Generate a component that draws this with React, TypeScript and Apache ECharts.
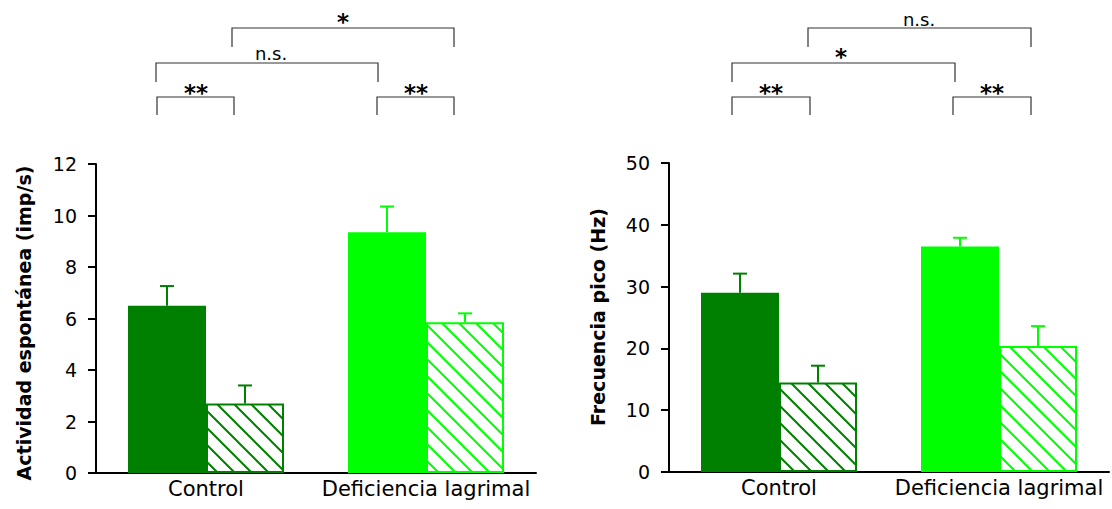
import React, { useEffect, useRef } from 'react';
import * as echarts from 'echarts';

const categories = ['Control', 'Deficiencia lagrimal'];
const groupColors = ['#008000', '#00ff00'];

const leftSolid = [6.5, 9.35];
const leftSolidErr = [0.76, 1.0];
const leftHatched = [2.7, 5.85];
const leftHatchedErr = [0.7, 0.35];
const leftAxis = { min: 0, max: 12, interval: 2 };
const leftTitle = 'Actividad espontánea (imp/s)';

const rightSolid = [29, 36.5];
const rightSolidErr = [3.1, 1.4];
const rightHatched = [14.5, 20.4];
const rightHatchedErr = [2.7, 3.2];
const rightAxis = { min: 0, max: 50, interval: 10 };
const rightTitle = 'Frecuencia pico (Hz)';

const leftMarks = ['**', 'n.s.', '*', '**'];
const rightMarks = ['**', '*', 'n.s.', '**'];

const FONT = '"DejaVu Sans", "Liberation Sans", Arial, sans-serif';

function hatchCanvas(color: string) {
  const s = 17;
  const c = document.createElement('canvas');
  c.width = s;
  c.height = s;
  const ctx = c.getContext('2d')!;
  ctx.fillStyle = '#ffffff';
  ctx.fillRect(0, 0, s, s);
  ctx.strokeStyle = color;
  ctx.lineWidth = 2;
  ctx.beginPath();
  ctx.moveTo(-2, -2);
  ctx.lineTo(s + 2, s + 2);
  ctx.moveTo(s - 2, -2);
  ctx.lineTo(s + 2, 2);
  ctx.moveTo(-2, s - 2);
  ctx.lineTo(2, s + 2);
  ctx.stroke();
  return c;
}

export default function App() {
  const ref = useRef<HTMLDivElement>(null);
  useEffect(() => {
    document.body.style.margin = '0';
    const chart = echarts.init(ref.current!, null, { renderer: 'svg' });
    const patterns = groupColors.map((c) => ({
      image: hatchCanvas(c),
      repeat: 'repeat',
      imageWidth: 17,
      imageHeight: 17,
    }));

    const barW = 78;
    const errSeries = (axis: number, vals: number[], errs: number[], offset: number) => ({
      type: 'custom',
      xAxisIndex: axis,
      yAxisIndex: axis,
      z: 5,
      silent: true,
      data: vals.map((v, i) => [i, v, v + errs[i]]),
      renderItem: (params: any, api: any) => {
        const i = api.value(0);
        const base = api.coord([i, api.value(1)]);
        const top = api.coord([i, api.value(2)]);
        const x = base[0] + offset;
        const color = groupColors[i];
        return {
          type: 'group',
          children: [
            { type: 'line', shape: { x1: x, y1: base[1], x2: x, y2: top[1] }, style: { stroke: color, lineWidth: 2 } },
            { type: 'line', shape: { x1: x - 7, y1: top[1], x2: x + 7, y2: top[1] }, style: { stroke: color, lineWidth: 2 } },
          ],
        };
      },
    });

    const solidSeries = (axis: number, vals: number[]) => ({
      type: 'bar',
      xAxisIndex: axis,
      yAxisIndex: axis,
      barWidth: barW,
      barGap: '0%',
      data: vals.map((v, i) => ({ value: v, itemStyle: { color: groupColors[i] } })),
    });
    const hatchSeries = (axis: number, vals: number[]) => ({
      type: 'bar',
      xAxisIndex: axis,
      yAxisIndex: axis,
      barWidth: barW,
      barGap: '0%',
      data: vals.map((v, i) => ({
        value: v,
        itemStyle: { color: patterns[i], borderColor: groupColors[i], borderWidth: 2 },
      })),
    });

    const xAxis = (grid: number) => ({
      type: 'category',
      gridIndex: grid,
      data: categories,
      axisLine: { lineStyle: { color: '#000', width: 2 } },
      axisTick: { show: false },
      axisLabel: { color: '#000', fontSize: 21, fontFamily: FONT, margin: 5, interval: 0, hideOverlap: false },
    });
    const yAxis = (grid: number, a: { min: number; max: number; interval: number }) => ({
      type: 'value',
      gridIndex: grid,
      min: a.min,
      max: a.max,
      interval: a.interval,
      splitLine: { show: false },
      axisLine: { show: true, lineStyle: { color: '#000', width: 2 } },
      axisTick: { show: true, length: 8, lineStyle: { color: '#000', width: 2 } },
      axisLabel: { color: '#000', fontSize: 19, fontFamily: FONT, margin: 19 },
    });

    const br = (x1: number, x2: number, y: number, h: number) => ({
      type: 'polyline',
      shape: { points: [[x1, y + h], [x1, y], [x2, y], [x2, y + h]] },
      style: { stroke: '#333', lineWidth: 1.2, fill: null },
    });
    const mark = (text: string, x: number, y: number) => ({
      type: 'text',
      x,
      y,
      style: {
        text,
        font: (text === 'n.s.' ? '18px ' : 'bold 23px ') + FONT,
        fill: '#000',
        align: 'center',
        verticalAlign: 'middle',
      },
    });

    chart.setOption({
      animation: false,
      backgroundColor: '#fff',
      grid: [
        { left: 96, top: 164, width: 440, height: 309 },
        { left: 669, top: 163, width: 440, height: 309 },
      ],
      xAxis: [xAxis(0), xAxis(1)],
      yAxis: [yAxis(0, leftAxis), yAxis(1, rightAxis)],
      series: [
        solidSeries(0, leftSolid),
        hatchSeries(0, leftHatched),
        errSeries(0, leftSolid, leftSolidErr, -barW / 2),
        errSeries(0, leftHatched, leftHatchedErr, barW / 2),
        solidSeries(1, rightSolid),
        hatchSeries(1, rightHatched),
        errSeries(1, rightSolid, rightSolidErr, -barW / 2),
        errSeries(1, rightHatched, rightHatchedErr, barW / 2),
      ],
      graphic: [
        {
          type: 'text',
          x: 24,
          y: 323,
          rotation: Math.PI / 2,
          style: { text: leftTitle, font: 'bold 19px ' + FONT, fill: '#000', align: 'center', verticalAlign: 'middle' },
        },
        {
          type: 'text',
          x: 598,
          y: 317,
          rotation: Math.PI / 2,
          style: { text: rightTitle, font: 'bold 19px ' + FONT, fill: '#000', align: 'center', verticalAlign: 'middle' },
        },
        br(157, 234, 97, 18),
        br(156, 378, 63, 19),
        br(232, 454, 28, 19),
        br(377, 454, 97, 18),
        mark(leftMarks[0], 196, 93),
        mark(leftMarks[1], 271, 53),
        mark(leftMarks[2], 343, 22),
        mark(leftMarks[3], 416, 93),
        br(732, 810, 97, 18),
        br(732, 955, 63, 19),
        br(808, 1031, 28, 19),
        br(953, 1031, 97, 18),
        mark(rightMarks[0], 771, 93),
        mark(rightMarks[1], 841, 57),
        mark(rightMarks[2], 919, 19),
        mark(rightMarks[3], 992, 93),
      ],
    });
    return () => chart.dispose();
  }, []);
  return <div ref={ref} style={{ width: 1112, height: 509 }} />;
}
